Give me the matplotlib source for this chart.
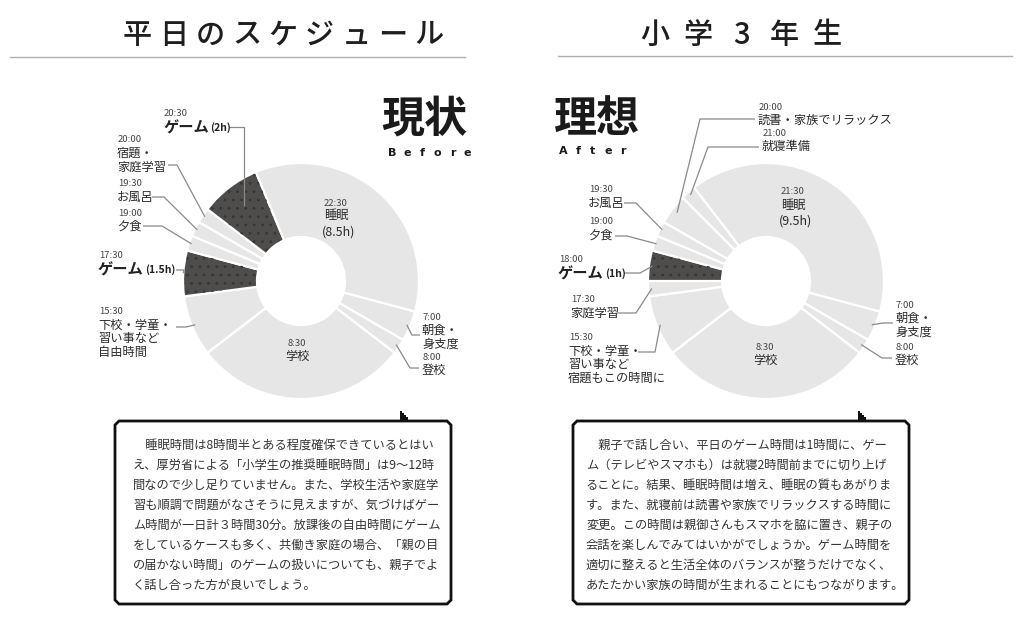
import matplotlib
matplotlib.use("Agg")
import numpy as np
import matplotlib.pyplot as plt
from matplotlib.patches import Wedge, Polygon

plt.rcParams['font.family'] = ['Noto Sans CJK JP', 'DejaVu Sans']
plt.rcParams['hatch.linewidth'] = 0.8

# Data: schedule on a 24h clock, slices listed from 7:00 clockwise
before_start = ["7:00", "8:00", "8:30", "15:30", "17:30", "19:00", "19:30", "20:00", "20:30", "22:30"]
before_hours = [1, 0.5, 7, 2, 1.5, 0.5, 0.5, 0.5, 2, 8.5]
before_names = ["朝食・\n身支度", "登校", "学校", "下校・学童・\n習い事など\n自由時間", "ゲーム",
                "夕食", "お風呂", "宿題・\n家庭学習", "ゲーム", "睡眠"]
before_game = [0, 0, 0, 0, 1, 0, 0, 0, 1, 0]

after_start = ["7:00", "8:00", "8:30", "15:30", "17:30", "18:00", "19:00", "19:30", "20:00", "21:00", "21:30"]
after_hours = [1, 0.5, 7, 2, 0.5, 1, 0.5, 0.5, 1, 0.5, 9.5]
after_names = ["朝食・\n身支度", "登校", "学校", "下校・学童・\n習い事など\n宿題もこの時間に", "家庭学習",
               "ゲーム", "夕食", "お風呂", "読書・家族でリラックス", "就寝準備", "睡眠"]
after_game = [0, 0, 0, 0, 0, 1, 0, 0, 0, 0, 0]

before_text = [
    "　睡眠時間は8時間半とある程度確保できているとはい",
    "え、厚労省による「小学生の推奨睡眠時間」は9〜12時",
    "間なので少し足りていません。また、学校生活や家庭学",
    "習も順調で問題がなさそうに見えますが、気づけばゲー",
    "ム時間が一日計３時間30分。放課後の自由時間にゲーム",
    "をしているケースも多く、共働き家庭の場合、「親の目",
    "の届かない時間」のゲームの扱いについても、親子でよ",
    "く話し合った方が良いでしょう。",
]
after_text = [
    "　親子で話し合い、平日のゲーム時間は1時間に、ゲー",
    "ム（テレビやスマホも）は就寝2時間前までに切り上げ",
    "ることに。結果、睡眠時間は増え、睡眠の質もあがりま",
    "す。また、就寝前は読書や家族でリラックスする時間に",
    "変更。この時間は親御さんもスマホを脇に置き、親子の",
    "会話を楽しんでみてはいかがでしょうか。ゲーム時間を",
    "適切に整えると生活全体のバランスが整うだけでなく、",
    "あたたかい家族の時間が生まれることにもつながります。",
]

LIGHT = '#e6e6e6'
DARK = '#4f4c4c'
TXT = '#2b2b2b'
R_OUT, R_IN = 118, 44

# label layout: slice index -> (x, y of time, leader start, elbow, end radius)
before_layout = {
    0: dict(x=422, y=317, ls=(420, 335), el=(412, 335), rf=0.97),
    1: dict(x=422, y=357, ls=(419, 368), el=(410, 368), rf=0.97),
    3: dict(x=98, y=312, ls=(176, 327), el=(186, 327), rf=0.97),
    4: dict(x=98, y=256, ls=(176, 270), el=(184, 270), rf=1.0, dur="(1.5h)"),
    5: dict(x=117, y=213, ls=(143, 226), el=(162, 226), rf=0.98),
    6: dict(x=117, y=184, ls=(152, 197), el=(164, 197), rf=0.98),
    7: dict(x=117, y=140, ls=(168, 165), el=(177, 165), rf=0.98),
    8: dict(x=163, y=114, ls=(229, 127), el=(None, 127), rf=0.8, dur="(2h)"),
}
after_layout = {
    0: dict(x=895, y=305, ls=(893, 323), el=(883, 323), rf=0.97),
    1: dict(x=895, y=347, ls=(892, 358), el=(882, 358), rf=0.97),
    3: dict(x=568, y=338, ls=(638, 352), el=(655, 352), rf=0.97),
    4: dict(x=570, y=300, ls=(617, 313), el=(636, 313), rf=0.97),
    5: dict(x=558, y=260, ls=(624, 273), el=(640, 273), rf=0.97, dur="(1h)"),
    6: dict(x=588, y=222, ls=(615, 236), el=(627, 236), rf=0.98),
    7: dict(x=588, y=190, ls=(624, 203), el=(636, 203), rf=0.98),
    8: dict(x=758, y=107, ls=(755, 119), el=(700, 119), rf=0.95),
    9: dict(x=762, y=133, ls=(759, 147), el=(708, 147), rf=0.97),
}

fig = plt.figure(figsize=(10.24, 6.2), dpi=100)
ax = fig.add_axes([0, 0, 1, 1])


def spaced(x, y, s, pitch, **kw):
    # draw characters one by one with a fixed pitch (letter spacing)
    x0 = x - pitch * (len(s) - 1) / 2
    for i, ch in enumerate(s):
        ax.text(x0 + i * pitch, y, ch, ha='center', va='center', **kw)


def donut(cx, cy, starts, hours, names, game, layout, inner):
    # y axis is flipped, so counterclock=True runs clockwise on screen
    wedges, _ = ax.pie(hours, center=(cx, cy), radius=R_OUT, startangle=15, counterclock=True,
                       colors=[DARK if g else LIGHT for g in game],
                       wedgeprops=dict(width=R_OUT - R_IN, edgecolor='white', linewidth=1.6))
    for w, g in zip(wedges, game):
        if g:
            # dotted texture on the game slices
            ax.add_patch(Wedge((cx, cy), R_OUT - 1.5, w.theta1 + 0.6, w.theta2 - 0.6,
                               width=R_OUT - R_IN - 3, facecolor='none', edgecolor='#383535',
                               hatch='..', linewidth=0))
    for i, w in enumerate(wedges):
        if i in layout:
            lay = layout[i]
            mid = np.deg2rad((w.theta1 + w.theta2) / 2)
            ex = cx + R_OUT * lay['rf'] * np.cos(mid)
            ey = cy + R_OUT * lay['rf'] * np.sin(mid)
            elx = ex if lay['el'][0] is None else lay['el'][0]
            ax.plot([lay['ls'][0], elx, ex], [lay['ls'][1], lay['el'][1], ey],
                    color='#8a8a8a', lw=0.9, solid_capstyle='butt')
            ax.text(lay['x'] + 1, lay['y'], starts[i], fontsize=6.8, color='#444444',
                    ha='left', va='center')
            if game[i]:
                t = ax.text(lay['x'], lay['y'] + 14, names[i], fontsize=11, fontweight='bold',
                            color='#222222', ha='left', va='center')
                ax.annotate(lay['dur'], xy=(1, 0.5), xycoords=t, xytext=(1, 0),
                            textcoords='offset points', fontsize=7.5, fontweight='bold',
                            color='#222222', ha='left', va='center')
            else:
                for k, line in enumerate(names[i].split("\n")):
                    ax.text(lay['x'], lay['y'] + 13 + 13.8 * k, line, fontsize=8.8,
                            color=TXT, ha='left', va='center')
    # labels inside the ring
    for i, (x, y, ha) in inner.items():
        ax.text(x, y, starts[i], fontsize=6.8, color='#444444', ha=ha, va='center')
        ax.text(x, y + 13, names[i], fontsize=8.8, color=TXT, ha=ha, va='center')
        if names[i] == "睡眠":
            ax.text(x - 2, y + 29, "(%gh)" % hours[i], fontsize=9, color=TXT, ha=ha, va='center')


donut(301, 281, before_start, before_hours, before_names, before_game, before_layout,
      {2: (297, 343, 'center'), 9: (324, 203, 'left')})
donut(766, 281, after_start, after_hours, after_names, after_game, after_layout,
      {2: (765, 347, 'center'), 10: (781, 192, 'left')})

# titles
spaced(283, 35, "平日のスケジュール", 36.5, fontsize=21, fontweight='medium', color='#1e1e1e')
spaced(741, 35, "小学3年生", 43, fontsize=21, fontweight='medium', color='#1e1e1e')
ax.plot([10, 465], [57, 57], color='#b0b0b0', lw=1)
ax.plot([558, 1012], [56, 56], color='#b0b0b0', lw=1)

# 現状 / 理想 headings
ax.text(424, 119, "現状", fontsize=31, fontweight='bold', color='#1a1a1a', ha='center', va='center')
spaced(430, 153, "Before", 15, fontsize=8, fontweight='bold', color='#1a1a1a', family='DejaVu Sans')
ax.text(597, 119, "理想", fontsize=31, fontweight='bold', color='#1a1a1a', ha='center', va='center')
spaced(593, 151, "After", 15, fontsize=8, fontweight='bold', color='#1a1a1a', family='DejaVu Sans')


def bubble(x0, y0, x1, y1, tail_x, lines, tx):
    n = 4
    pts = [(x0 + n, y0), (x1 - n, y0), (x1, y0 + n), (x1, y1 - n), (x1 - n, y1),
           (x0 + n, y1), (x0, y1 - n), (x0, y0 + n)]
    ax.add_patch(Polygon(pts, closed=True, facecolor='white', edgecolor='#111111', lw=2))
    tail = [(tail_x, y0 + 1), (tail_x, y0 - 10), (tail_x + 2, y0 - 10), (tail_x + 2, y0 - 8),
            (tail_x + 4, y0 - 8), (tail_x + 4, y0 - 6), (tail_x + 6, y0 - 6), (tail_x + 6, y0 - 4),
            (tail_x + 8, y0 - 4), (tail_x + 8, y0 + 1)]
    ax.add_patch(Polygon(tail, closed=True, facecolor='#111111', edgecolor='none'))
    for k, line in enumerate(lines):
        ax.text(tx, 445 + 20 * k, line, fontsize=8.8, color='#333333', ha='left', va='center')


bubble(115, 421, 451, 604, 400, before_text, 133)
bubble(573, 421, 909, 604, 858, after_text, 586)

ax.set_xlim(0, 1024)
ax.set_ylim(620, 0)
ax.set_aspect('auto')
ax.axis('off')

fig.savefig("out.png", dpi=100, facecolor='white')
